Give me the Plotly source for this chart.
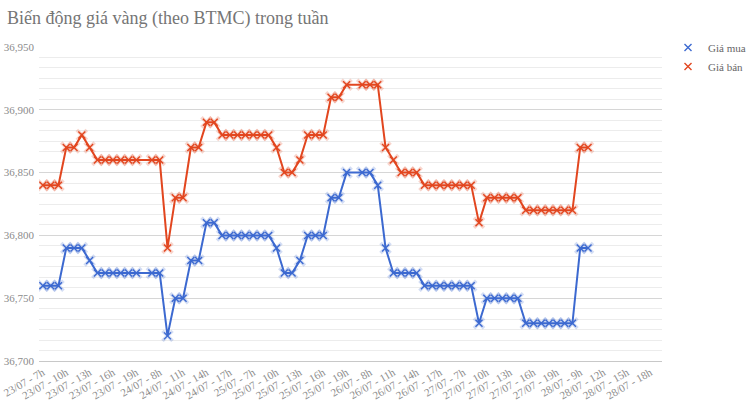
import plotly.graph_objects as go

categories = [
    "23/07 - 7h", "23/07 - 8h", "23/07 - 9h", "23/07 - 10h", "23/07 - 11h", "23/07 - 12h", "23/07 - 13h",
    "23/07 - 14h", "23/07 - 15h", "23/07 - 16h", "23/07 - 17h", "23/07 - 18h", "23/07 - 19h", "23/07 - 20h",
    "24/07 - 7h", "24/07 - 8h", "24/07 - 9h", "24/07 - 10h", "24/07 - 11h", "24/07 - 12h", "24/07 - 13h",
    "24/07 - 14h", "24/07 - 15h", "24/07 - 16h", "24/07 - 17h", "24/07 - 18h", "24/07 - 19h",
    "25/07 - 7h", "25/07 - 8h", "25/07 - 9h", "25/07 - 10h", "25/07 - 11h", "25/07 - 12h", "25/07 - 13h",
    "25/07 - 14h", "25/07 - 15h", "25/07 - 16h", "25/07 - 17h", "25/07 - 18h", "25/07 - 19h", "25/07 - 20h",
    "26/07 - 7h", "26/07 - 8h", "26/07 - 9h", "26/07 - 10h", "26/07 - 11h", "26/07 - 12h", "26/07 - 13h",
    "26/07 - 14h", "26/07 - 15h", "26/07 - 16h", "26/07 - 17h", "26/07 - 18h", "26/07 - 19h",
    "27/07 - 7h", "27/07 - 8h", "27/07 - 9h", "27/07 - 10h", "27/07 - 11h", "27/07 - 12h", "27/07 - 13h",
    "27/07 - 14h", "27/07 - 15h", "27/07 - 16h", "27/07 - 17h", "27/07 - 18h", "27/07 - 19h", "27/07 - 20h",
    "28/07 - 8h", "28/07 - 9h", "28/07 - 10h", "28/07 - 11h", "28/07 - 12h", "28/07 - 13h",
    "28/07 - 14h", "28/07 - 15h", "28/07 - 16h", "28/07 - 17h", "28/07 - 18h", "28/07 - 19h",
]

tick_labels = [
    "23/07 - 7h", "23/07 - 10h", "23/07 - 13h", "23/07 - 16h", "23/07 - 19h",
    "24/07 - 8h", "24/07 - 11h", "24/07 - 14h", "24/07 - 17h",
    "25/07 - 7h", "25/07 - 10h", "25/07 - 13h", "25/07 - 16h", "25/07 - 19h",
    "26/07 - 8h", "26/07 - 11h", "26/07 - 14h", "26/07 - 17h",
    "27/07 - 7h", "27/07 - 10h", "27/07 - 13h", "27/07 - 16h", "27/07 - 19h",
    "28/07 - 9h", "28/07 - 12h", "28/07 - 15h", "28/07 - 18h",
]

gia_mua = [
    36760, 36760, 36760, 36790, 36790, 36790, 36780,
    36770, 36770, 36770, 36770, 36770, 36770, None,
    36770, 36770, 36720, 36750, 36750, 36780, 36780,
    36810, 36810, 36800, 36800, 36800, 36800,
    36800, 36800, 36800, 36790, 36770, 36770, 36780,
    36800, 36800, 36800, 36830, 36830, 36850, None,
    36850, 36850, 36840, 36790, 36770, 36770, 36770,
    36770, 36760, 36760, 36760, 36760, 36760,
    36760, 36760, 36730, 36750, 36750, 36750, 36750,
    36750, 36730, 36730, 36730, 36730, 36730, 36730,
    36730, 36790, 36790, None, None, None,
    None, None, None, None, None, None,
]

gia_ban = [
    36840, 36840, 36840, 36870, 36870, 36880, 36870,
    36860, 36860, 36860, 36860, 36860, 36860, None,
    36860, 36860, 36790, 36830, 36830, 36870, 36870,
    36890, 36890, 36880, 36880, 36880, 36880,
    36880, 36880, 36880, 36870, 36850, 36850, 36860,
    36880, 36880, 36880, 36910, 36910, 36920, None,
    36920, 36920, 36920, 36870, 36860, 36850, 36850,
    36850, 36840, 36840, 36840, 36840, 36840,
    36840, 36840, 36810, 36830, 36830, 36830, 36830,
    36830, 36820, 36820, 36820, 36820, 36820, 36820,
    36820, 36870, 36870, None, None, None,
    None, None, None, None, None, None,
]

series = [("Giá mua", gia_mua, "#3c69d0"), ("Giá bán", gia_ban, "#e2461f")]

SERIF = "Liberation Serif, Times New Roman, serif"

fig = go.Figure()
for name, vals, color in series:
    fig.add_trace(go.Scatter(
        x=categories, y=vals, mode="lines", connectgaps=True,
        line=dict(color=color, width=2), showlegend=False, hoverinfo="skip",
    ))
for name, vals, color in series:
    fig.add_trace(go.Scatter(
        x=categories, y=vals, mode="markers", showlegend=False, hoverinfo="skip",
        marker=dict(symbol="x-thin", size=10, line=dict(color=color, width=3.5), opacity=0.22),
    ))
for i, (name, vals, color) in enumerate(series):
    fig.add_trace(go.Scatter(
        x=categories, y=vals, mode="markers", name=name, legendgroup=name,
        marker=dict(symbol="x-thin", size=7, line=dict(color=color, width=1.4)),
    ))

fig.update_layout(
    width=746, height=408,
    margin=dict(l=39, r=84, t=47, b=47, autoexpand=False),
    paper_bgcolor="white", plot_bgcolor="white",
    font=dict(family=SERIF, color="#808080", size=11),
    title=dict(
        text="Biến động giá vàng (theo BTMC) trong tuần",
        font=dict(family=SERIF, size=18, color="#757575"),
        xref="container", yref="container", x=7 / 746, xanchor="left",
        y=1 - 18 / 408, yanchor="middle",
    ),
    legend=dict(
        xref="container", yref="container",
        x=668 / 746, xanchor="left", y=1 - 33 / 408, yanchor="top",
        font=dict(family=SERIF, size=11, color="#666666"),
        bgcolor="rgba(0,0,0,0)", tracegroupgap=0,
    ),
    showlegend=True,
)

fig.update_xaxes(
    type="category", categoryorder="array", categoryarray=categories,
    range=[-0.5, len(categories) - 0.5], automargin=False,
    tickmode="array", tickvals=tick_labels, ticktext=tick_labels,
    tickangle=-30, showgrid=False, zeroline=False,
    showline=True, linecolor="#c8c8c8", linewidth=1,
    tickfont=dict(family=SERIF, size=11, color="#8c8c8c"),
    ticks="",
)
fig.update_yaxes(
    range=[36700, 36950], dtick=50, tickformat=",d", automargin=False,
    showgrid=True, gridcolor="#d6d6d6", gridwidth=1, zeroline=False,
    tickfont=dict(family=SERIF, size=11, color="#8c8c8c"),
    minor=dict(dtick=50 / 6, showgrid=True, gridcolor="#ececec", gridwidth=1),
    ticks="", ticklabelstandoff=4,
)

fig.write_html("out.html")
